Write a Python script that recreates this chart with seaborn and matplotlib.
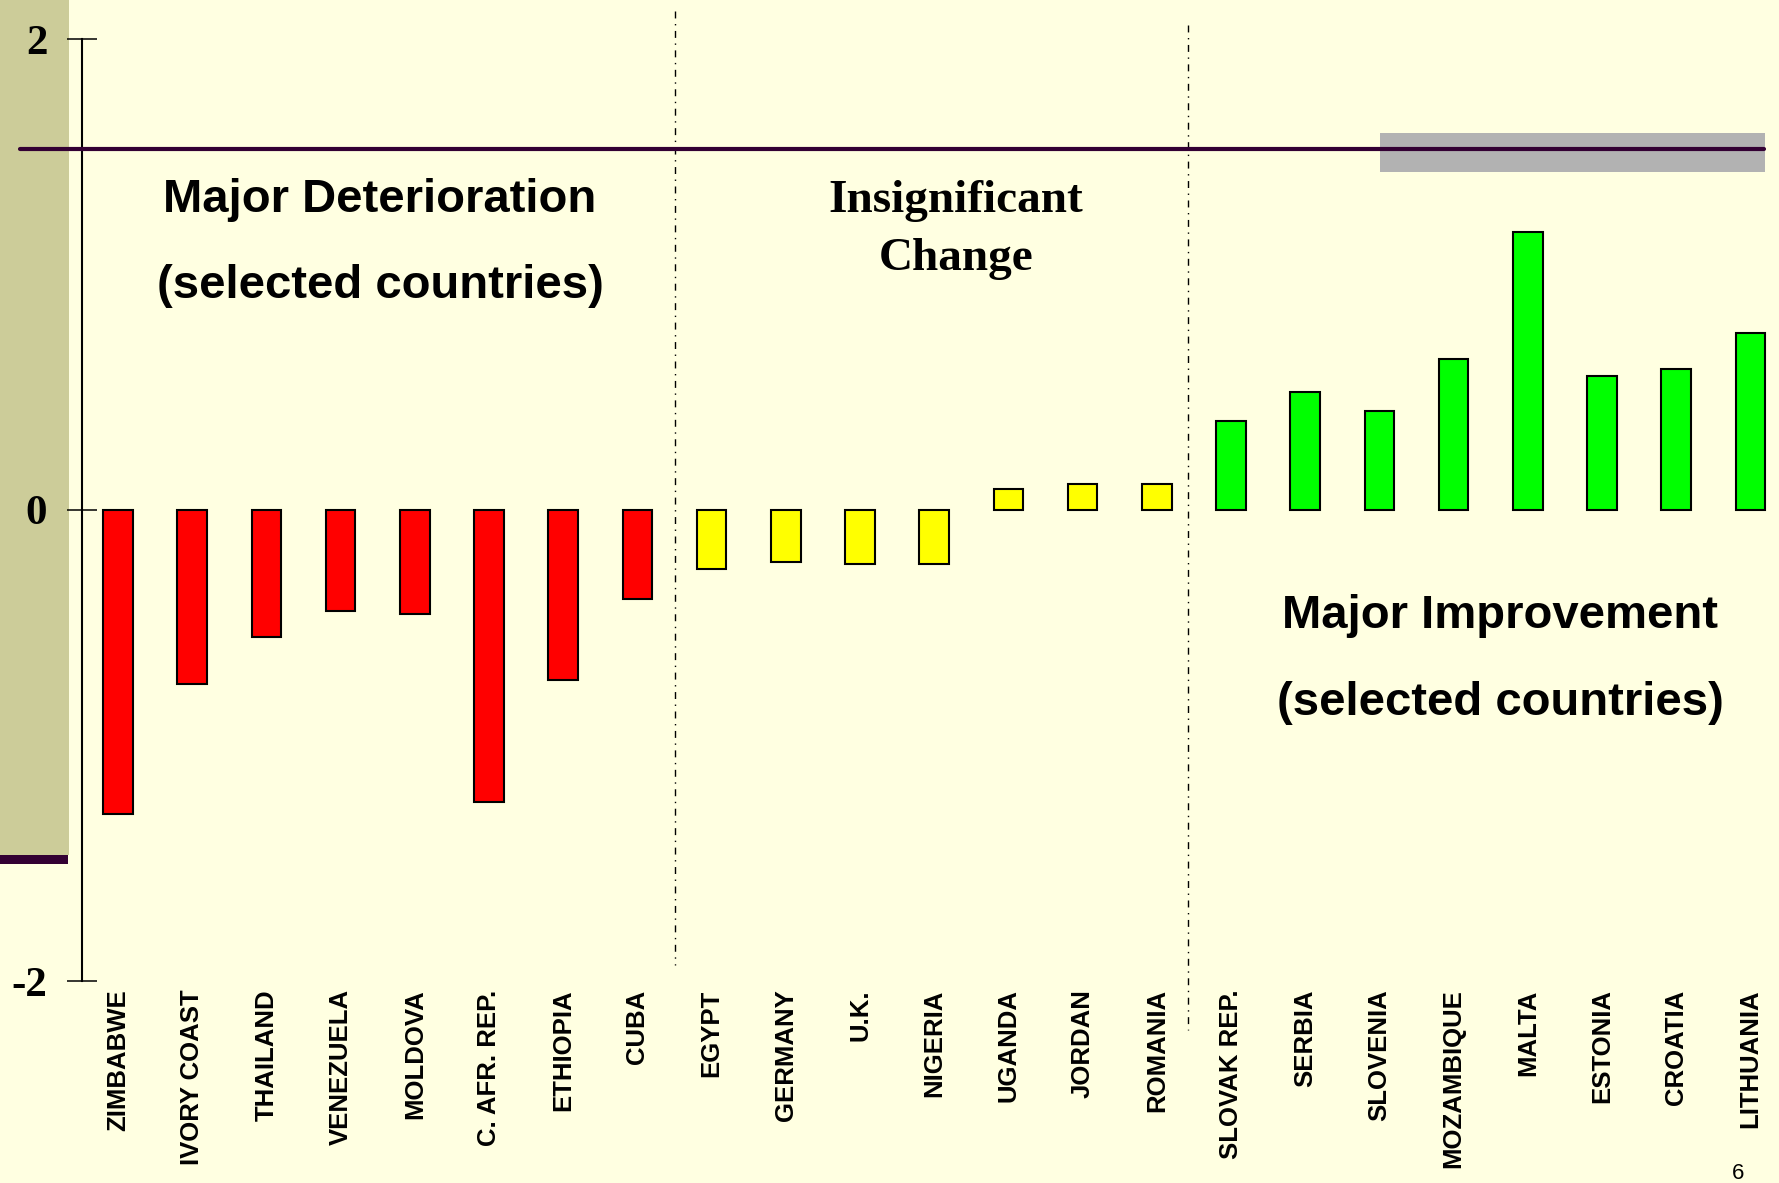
import pandas as pd
import seaborn as sns
import matplotlib.pyplot as plt
from matplotlib.patches import Rectangle
from matplotlib.lines import Line2D

# chart data
countries = ["ZIMBABWE", "IVORY COAST", "THAILAND", "VENEZUELA", "MOLDOVA",
             "C. AFR. REP.", "ETHIOPIA", "CUBA",
             "EGYPT", "GERMANY", "U.K.", "NIGERIA", "UGANDA", "JORDAN", "ROMANIA",
             "SLOVAK REP.", "SERBIA", "SLOVENIA", "MOZAMBIQUE", "MALTA",
             "ESTONIA", "CROATIA", "LITHUANIA"]
change = [-1.29, -0.74, -0.54, -0.43, -0.44, -1.24, -0.72, -0.38,
          -0.25, -0.22, -0.23, -0.23, 0.09, 0.11, 0.11,
          0.38, 0.50, 0.42, 0.64, 1.18, 0.57, 0.60, 0.75]
groups = ["down"] * 8 + ["flat"] * 7 + ["up"] * 8
group_colors = {"down": "#FF0000", "flat": "#FFFF00", "up": "#00FF00"}
ytick_vals = [-2, 0, 2]
ytick_text = ["-2", "0", "2"]

df = pd.DataFrame({"country": countries, "change": change, "group": groups})

W, H = 1779, 1183
bg = "#FFFFE1"

sns.set_style("white")
plt.rcParams["font.family"] = ["Liberation Sans", "DejaVu Sans"]
plt.rcParams["text.color"] = "black"
plt.rcParams["xtick.color"] = "black"
plt.rcParams["ytick.color"] = "black"

fig = plt.figure(figsize=(W / 100, H / 100), dpi=100, facecolor=bg)


def fx(px):
    return px / W


def fy(py):
    return 1 - py / H


# slide decorations: olive band on the left, purple rule, gray bar
fig.patches.append(Rectangle((0, fy(855)), fx(69), 1 - fy(855), transform=fig.transFigure,
                             facecolor="#CCCC99", edgecolor="none", zorder=-2))
fig.patches.append(Rectangle((0, fy(864)), fx(68), fy(855) - fy(864), transform=fig.transFigure,
                             facecolor="#330033", edgecolor="none", zorder=-2))
fig.patches.append(Rectangle((fx(1380), fy(172)), fx(385), fy(133) - fy(172), transform=fig.transFigure,
                             facecolor="#B2B2B2", edgecolor="none", zorder=1))
fig.lines.append(Line2D([fx(20), fx(1764)], [fy(149), fy(149)], transform=fig.transFigure,
                        color="#330033", linewidth=3, zorder=2))

ax = fig.add_axes([fx(82), fy(981), 1 - fx(82), fy(39) - fy(981)])
ax.set_facecolor("none")

sns.barplot(data=df, x="country", y="change", hue="group", palette=group_colors,
            dodge=False, width=0.4, saturation=1, edgecolor="black", linewidth=1.5,
            legend=False, ax=ax)

ax.set_xlim(-0.485, 22.385)
ax.set_ylim(-2, 2)
ax.set_yticks(ytick_vals)
ax.set_yticklabels(ytick_text, fontfamily="Liberation Serif", fontweight="bold", fontsize=31)
ax.tick_params(axis="y", left=True, direction="inout", length=21, width=1.1, pad=14.5,
               color="black", labelcolor="black")
ax.tick_params(axis="x", bottom=False, length=0, pad=6, labelcolor="black")
plt.setp(ax.get_xticklabels(), rotation=90, ha="center", va="top",
         fontweight="bold", fontsize=18.5)
ax.set_xlabel("")
ax.set_ylabel("")

for s in ["top", "right", "bottom"]:
    ax.spines[s].set_visible(False)
ax.spines["left"].set_linewidth(1.5)
ax.spines["left"].set_color("black")

# dash-dot separators between the three groups
n_down = groups.count("down")
n_flat = groups.count("flat")
ax.plot([n_down - 0.5] * 2, [2.12, -1.93], color="black", lw=1,
        linestyle=(0, (5, 4, 1, 4)), clip_on=False)
ax.plot([n_down + n_flat - 0.58] * 2, [2.06, -2.21], color="black", lw=1,
        linestyle=(0, (5, 4, 1, 4)), clip_on=False)

# group captions
fig.text(fx(380), fy(212), "Major Deterioration", ha="center", va="baseline",
         fontsize=34, fontweight="bold")
fig.text(fx(380), fy(298), "(selected countries)", ha="center", va="baseline",
         fontsize=34, fontweight="bold")
fig.text(fx(956), fy(212), "Insignificant", ha="center", va="baseline",
         fontsize=34, fontweight="bold", fontfamily="Liberation Serif")
fig.text(fx(956), fy(270), "Change", ha="center", va="baseline",
         fontsize=34, fontweight="bold", fontfamily="Liberation Serif")
fig.text(fx(1500), fy(628), "Major Improvement", ha="center", va="baseline",
         fontsize=34, fontweight="bold")
fig.text(fx(1500), fy(715), "(selected countries)", ha="center", va="baseline",
         fontsize=34, fontweight="bold")

fig.text(fx(1738), fy(1163), "6", ha="center", va="top", fontsize=16)

plt.savefig("out.png", dpi=100, facecolor=bg)
